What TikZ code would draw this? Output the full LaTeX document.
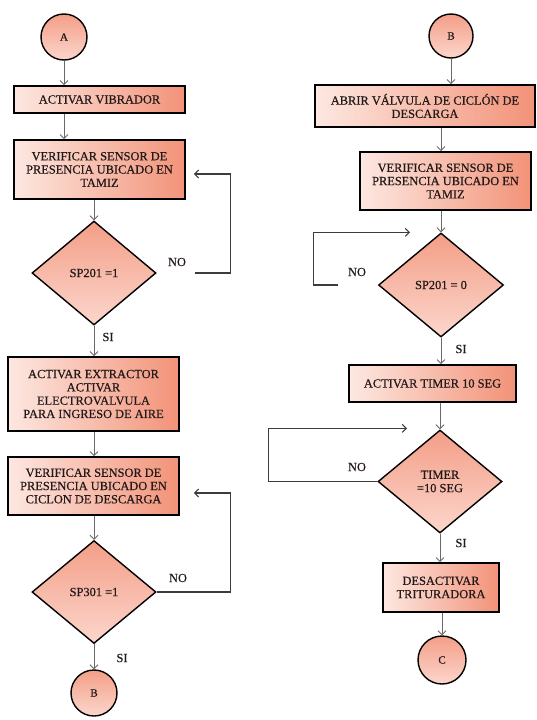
\documentclass[tikz,border=0pt]{standalone}
\usepackage{fontspec}
\setmainfont{Liberation Serif}
\newfontfamily\diagfont{Liberation Serif}[FakeBold=0.5]
\usetikzlibrary{shapes.geometric,arrows.meta,calc}
\definecolor{boxL}{RGB}{253,232,225}
\definecolor{boxR}{RGB}{242,146,120}
\definecolor{dT}{RGB}{243,158,135}
\definecolor{dB}{RGB}{252,214,204}
\definecolor{arrg}{RGB}{105,105,105}
\definecolor{loopc}{RGB}{60,60,60}
\definecolor{txtc}{RGB}{35,25,25}
\begin{document}
\begin{tikzpicture}[x=1pt,y=-1pt,
  txt/.style={font=\diagfont\fontsize{12.4}{13.3}\selectfont,text=txtc},
  procbox/.style={txt,draw=black,line width=1.6pt,left color=boxL,right color=boxR,align=center,inner sep=1pt},
  decbox/.style={txt,diamond,draw=black,line width=1.4pt,top color=dT,bottom color=dB,align=center,inner sep=0pt},
  conn/.style={circle,draw=black,line width=1.4pt,top color=dT,bottom color=dB,inner sep=0pt,minimum size=46pt,font=\diagfont\fontsize{11}{12}\selectfont,text=txtc},
  arr/.style={draw=arrg,line width=0.9pt,-{Straight Barb[length=4pt,width=8pt]}},
  loopline/.style={draw=loopc,line width=1.1pt,-{Straight Barb[length=4pt,width=8pt]}},
  lbl/.style={txt}
]
\useasboundingbox (0,0) rectangle (537,720);
\fill[white] (0,0) rectangle (537,720);

% ---------- left column ----------
\node[conn] (A) at (64,37) {A};
\node[procbox,minimum width=171pt,minimum height=27pt] (v1) at (99.5,99.5) {ACTIVAR VIBRADOR};
\node[procbox,minimum width=171pt,minimum height=59pt] (v2) at (99.5,169.5) {VERIFICAR SENSOR DE\\PRESENCIA UBICADO EN\\TAMIZ};
\node[decbox,minimum width=124pt,minimum height=104pt] (d1) at (94,273) {SP201 =1};
\node[procbox,minimum width=171pt,minimum height=74pt] (v3) at (93.5,394) {ACTIVAR EXTRACTOR\\ACTIVAR\\ELECTROVALVULA\\PARA INGRESO DE AIRE};
\node[procbox,minimum width=171pt,minimum height=58pt] (v4) at (93.5,486) {VERIFICAR SENSOR DE\\PRESENCIA UBICADO EN\\CICLON DE DESCARGA};
\node[decbox,minimum width=124pt,minimum height=103pt] (d2) at (94,592) {SP301 =1};
\node[conn] (B1) at (94,693) {B};

\node[lbl] (no1) at (177,262) {NO};
\node[lbl] (si1) at (108,337) {SI};
\node[lbl] (no2) at (178,578) {NO};
\node[lbl] (si2) at (122,658) {SI};

\draw[arr] (A.south) -- (A |- v1.north);
\draw[arr] (A |- v1.south) -- (A |- v2.north);
\draw[arr] (d1 |- v2.south) -- (d1.north);
\draw[arr] (d1.south) -- (d1 |- v3.north);
\draw[arr] (d1 |- v3.south) -- (d1 |- v4.north);
\draw[arr] (d2 |- v4.south) -- (d2.north);
\draw[arr] (d2.south) -- (B1.north);

\draw[loopline] ($(d1.east)+(38,0)$) -- ++(36,0) |- ($(v2.east)+(8,4.5)$);
\draw[loopline] (d2.east) -- ++(74,0) |- ($(v4.east)+(14,7)$);

% ---------- right column ----------
\node[conn,minimum size=44pt] (B2) at (451,36) {B};
\node[procbox,minimum width=220pt,minimum height=42pt] (r1) at (425,106) {ABRIR VÁLVULA DE CICLÓN DE\\DESCARGA};
\node[procbox,minimum width=171pt,minimum height=58pt] (r2) at (445.5,181) {VERIFICAR SENSOR DE\\PRESENCIA UBICADO EN\\TAMIZ};
\node[decbox,minimum width=125pt,minimum height=104pt] (d3) at (441,285) {SP201 = 0};
\node[procbox,minimum width=167pt,minimum height=37pt] (r3) at (432.5,383.5) {ACTIVAR TIMER 10 SEG};
\node[decbox,minimum width=124pt,minimum height=103pt] (d4) at (440,481.5) {TIMER\\=10 SEG};
\node[procbox,minimum width=116pt,minimum height=49pt] (r4) at (441,587.5) {DESACTIVAR\\TRITURADORA};
\node[conn,minimum size=48pt] (C) at (442,660) {C};

\node[lbl] (no3) at (357,272) {NO};
\node[lbl] (si3) at (461,349) {SI};
\node[lbl] (no4) at (357,467) {NO};
\node[lbl] (si4) at (461,543) {SI};

\draw[arr] (B2.south) -- (B2 |- r1.north);
\draw[arr] (d3 |- r1.south) -- (d3 |- r2.north);
\draw[arr] (d3 |- r2.south) -- (d3.north);
\draw[arr] (d3.south) -- (d3 |- r3.north);
\draw[arr] (d4 |- r3.south) -- (d4.north);
\draw[arr] (d4.south) -- (d4 |- r4.north);
\draw[arr] (C |- r4.south) -- (C.north);

\draw[loopline] ($(d3.west)+(-40,0)$) -- ++(-24,0) |- ($(d3.north)+(-31,0)$);
\draw[loopline] (d4.west) -- ++(-109,0) |- ($(d4.north)+(-33,-1)$);
\end{tikzpicture}
\end{document}
